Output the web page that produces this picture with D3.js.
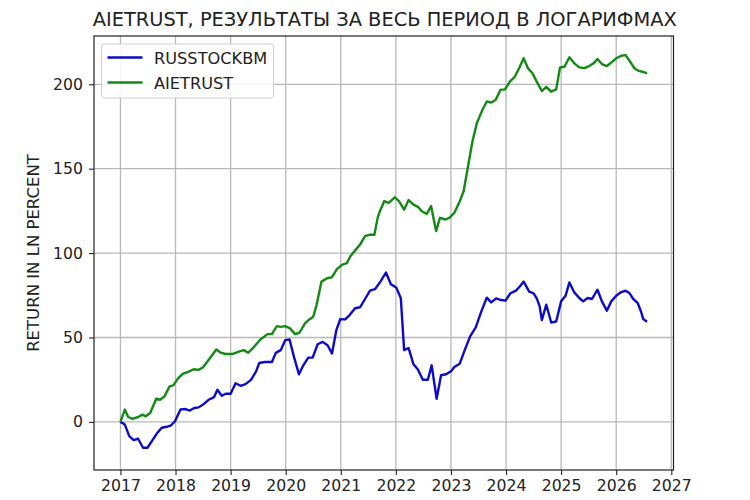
<!DOCTYPE html>
<html>
<head>
<meta charset="utf-8">
<script src="https://cdn.jsdelivr.net/npm/d3@7"></script>
<style>
  body { margin: 0; background: #fff; }
  text { font-family: "DejaVu Sans", sans-serif; fill: #222; }
</style>
</head>
<body>
<svg id="chart" width="750" height="500"></svg>
<script>
const chartTitle = "AIETRUST, РЕЗУЛЬТАТЫ ЗА ВЕСЬ ПЕРИОД В ЛОГАРИФМАХ";
const yAxisLabel = "RETURN IN LN PERCENT";
const seriesNames = ["RUSSTOCKBM", "AIETRUST"];
const xTickValues = [2017, 2018, 2019, 2020, 2021, 2022, 2023, 2024, 2025, 2026, 2027];
const yTickValues = [0, 50, 100, 150, 200];

const russDates = [2017.00,2017.08,2017.16,2017.24,2017.32,2017.41,2017.49,2017.57,2017.66,2017.75,2017.84,2017.92,2017.99,
  2018.09,2018.18,2018.26,2018.34,2018.42,2018.52,2018.60,2018.70,2018.76,2018.84,2018.91,2019.00,2019.09,2019.18,2019.27,
  2019.37,2019.46,2019.52,2019.62,2019.75,2019.82,2019.91,2019.99,2020.07,2020.15,2020.24,2020.32,2020.41,2020.49,2020.58,
  2020.67,2020.76,2020.84,2020.92,2020.99,2021.08,2021.16,2021.26,2021.35,2021.44,2021.53,2021.62,2021.72,2021.82,2021.91,
  2022.01,2022.09,2022.15,2022.23,2022.32,2022.40,2022.49,2022.58,2022.65,2022.74,2022.82,2022.91,2023.01,2023.06,2023.16,
  2023.25,2023.35,2023.45,2023.55,2023.65,2023.73,2023.82,2023.91,2023.99,2024.08,2024.18,2024.25,2024.32,2024.42,2024.50,
  2024.56,2024.61,2024.65,2024.73,2024.82,2024.91,2025.00,2025.08,2025.15,2025.24,2025.33,2025.40,2025.48,2025.56,2025.66,
  2025.74,2025.83,2025.91,2026.00,2026.09,2026.17,2026.24,2026.31,2026.39,2026.45,2026.49,2026.56];
const russValues = [0,-1.6,-8.4,-10.8,-10,-15.3,-15.3,-11.4,-6.9,-3.5,-2.9,-2,0.4,
  7.3,7.6,6.7,8.2,8.6,10.8,13.1,14.7,19,15.5,16.7,16.7,22.9,21.4,22.4,
  24.9,29.8,34.9,35.5,35.5,40.9,42.5,48.4,48.8,38.5,28.2,33.5,38.1,38.1,46,
  47.4,45.4,40.5,54.4,60.9,60.7,63.3,67.3,67.9,72.8,77.8,78.6,83.1,88.5,81.5,
  79.4,73.2,42.5,43.8,34.1,31,25,25,33.5,13.7,27.6,28.2,30.2,32.5,34.5,
  42.5,50.8,56,65.3,73.6,70.8,73.2,72.2,71.8,76.2,77.8,80.2,83.1,77.2,76.2,
  73,68.4,60.3,69.4,58.9,59.5,71.4,74.7,82.6,76.7,73.4,71.4,73.4,72.8,78.3,
  71.4,65.9,71.4,74.7,76.9,77.7,76.3,72.8,70.4,65.4,60.9,59.3];

const aieDates = [2017.00,2017.08,2017.14,2017.22,2017.32,2017.40,2017.46,2017.54,2017.65,2017.72,2017.80,2017.89,2017.96,
  2018.05,2018.13,2018.24,2018.33,2018.42,2018.50,2018.60,2018.74,2018.82,2018.91,2019.03,2019.15,2019.24,2019.32,2019.40,
  2019.45,2019.54,2019.67,2019.75,2019.84,2019.91,2019.99,2020.08,2020.17,2020.25,2020.35,2020.43,2020.50,2020.56,2020.65,
  2020.75,2020.84,2020.93,2021.02,2021.11,2021.17,2021.26,2021.35,2021.44,2021.53,2021.61,2021.67,2021.70,2021.79,2021.87,
  2021.98,2022.06,2022.15,2022.23,2022.32,2022.40,2022.47,2022.56,2022.64,2022.73,2022.80,2022.90,2022.97,2023.06,2023.16,
  2023.23,2023.31,2023.39,2023.47,2023.57,2023.65,2023.73,2023.81,2023.90,2023.98,2024.07,2024.16,2024.25,2024.32,2024.40,
  2024.48,2024.55,2024.65,2024.73,2024.82,2024.91,2024.98,2025.06,2025.15,2025.24,2025.33,2025.42,2025.51,2025.59,2025.66,
  2025.74,2025.83,2025.91,2026.00,2026.09,2026.17,2026.24,2026.33,2026.41,2026.49,2026.56];
const aieValues = [0,7.3,2.9,1.8,2.9,4.3,3.3,5.3,13.7,13.1,15.1,21,21.6,
  25.9,28.4,29.8,31.2,30.8,32.4,36.7,42.9,41,40.2,40.2,41.6,42.5,41,43.5,
  45.4,48.8,52,52,56.7,56.3,56.7,55.4,52,52.8,58.3,60.7,62.3,69.2,83.1,
  85.1,85.7,90.5,93,94,98,101.6,105,110,110.9,110.9,121,124,130.8,129.8,
  133,130.6,125.7,131.4,128.7,127.4,124.8,123.2,127.8,113,120.9,119.9,120.9,123.8,130.7,
  136.6,151.4,166.1,177,184.8,189.8,189.2,190.7,196.7,197,201.6,204.5,210.4,215.4,209.4,
  206.5,202,196,198.5,195.6,197,210,210.4,216,212.4,210,209.6,210.8,212.4,215,
  212,210.8,212.8,215.4,216.9,217.3,214,209.5,207.9,207.3,206.5];

const colors = ["#0b0bc8", "#138a13"];

const svg = d3.select("#chart");
const plot = {left: 94, right: 673.5, top: 36, bottom: 470};

const x = d3.scaleLinear().domain([2016.52, 2027.04]).range([plot.left, plot.right]);
const y = d3.scaleLinear().domain([-28.5, 228.6]).range([plot.bottom, plot.top]);

// grid
const grid = svg.append("g");
grid.selectAll("line.vx").data(xTickValues).join("line")
  .attr("x1", d => x(d)).attr("x2", d => x(d))
  .attr("y1", plot.top).attr("y2", plot.bottom)
  .attr("stroke", "#b8b8b8").attr("stroke-width", 1.3);
grid.selectAll("line.hy").data(yTickValues).join("line")
  .attr("x1", plot.left).attr("x2", plot.right)
  .attr("y1", d => y(d)).attr("y2", d => y(d))
  .attr("stroke", "#b8b8b8").attr("stroke-width", 1.3);

// lines
const series = [
  {name: seriesNames[0], dates: russDates, values: russValues, color: colors[0]},
  {name: seriesNames[1], dates: aieDates, values: aieValues, color: colors[1]}
];
const lineGen = d3.line().x(d => x(d[0])).y(d => y(d[1]));
series.forEach(s => {
  svg.append("path")
    .datum(s.dates.map((d, i) => [d, s.values[i]]))
    .attr("fill", "none")
    .attr("stroke", s.color)
    .attr("stroke-width", 2.4)
    .attr("stroke-linejoin", "round")
    .attr("d", lineGen);
});

// axes
const xAxis = d3.axisBottom(x).tickValues(xTickValues).tickFormat(d3.format("d")).tickSize(5).tickPadding(5);
const yAxis = d3.axisLeft(y).tickValues(yTickValues).tickFormat(d3.format("d")).tickSize(5).tickPadding(6);
const gx = svg.append("g").attr("transform", `translate(0,${plot.bottom})`).call(xAxis);
const gy = svg.append("g").attr("transform", `translate(${plot.left},0)`).call(yAxis);
[gx, gy].forEach(g => {
  g.select(".domain").remove();
  g.selectAll("line").attr("stroke", "#222").attr("stroke-width", 1.1);
  g.selectAll("text").attr("font-size", 15.7).attr("font-family", "DejaVu Sans").attr("fill", "#222");
});

// frame
svg.append("rect")
  .attr("x", plot.left).attr("y", plot.top)
  .attr("width", plot.right - plot.left).attr("height", plot.bottom - plot.top)
  .attr("fill", "none").attr("stroke", "#222").attr("stroke-width", 1.2);

// title
svg.append("text")
  .attr("x", (plot.left + plot.right) / 2 + 1).attr("y", 26)
  .attr("text-anchor", "middle").attr("font-size", 19.4)
  .text(chartTitle);

// y label
svg.append("text")
  .attr("transform", `translate(38.5,${(plot.top + plot.bottom) / 2}) rotate(-90)`)
  .attr("text-anchor", "middle").attr("font-size", 16.5)
  .text(yAxisLabel);

// legend
const lg = svg.append("g");
lg.append("rect")
  .attr("x", 101.5).attr("y", 44).attr("width", 172).attr("height", 54).attr("rx", 3)
  .attr("fill", "#fff").attr("fill-opacity", 0.85)
  .attr("stroke", "#d0d0d0").attr("stroke-width", 1);
series.forEach((s, i) => {
  const yy = 57.5 + i * 25;
  lg.append("line").attr("x1", 107.5).attr("x2", 142.5).attr("y1", yy).attr("y2", yy)
    .attr("stroke", s.color).attr("stroke-width", 2.4);
  lg.append("text").attr("x", 154).attr("y", yy + 6).attr("font-size", 16.2).text(s.name);
});
</script>
</body>
</html>
